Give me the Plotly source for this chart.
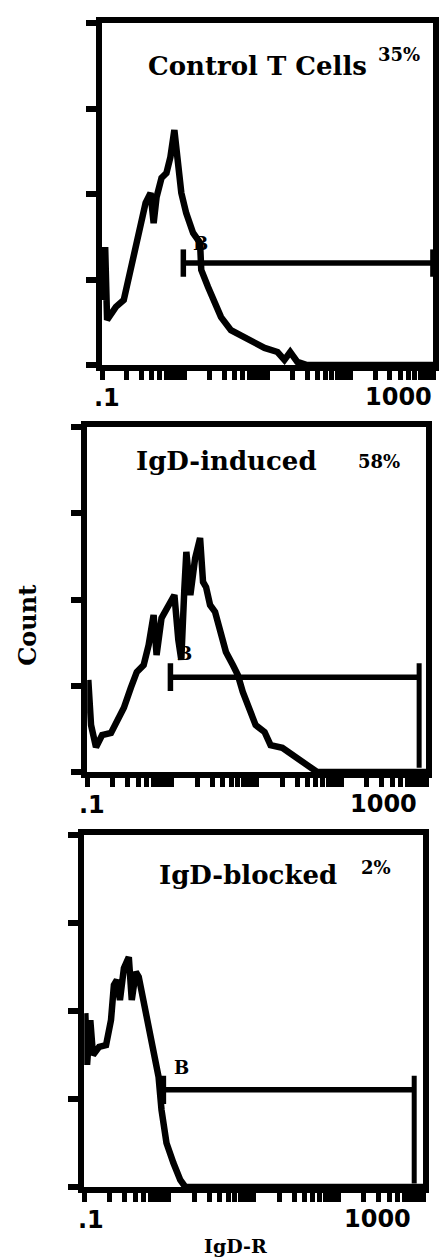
import plotly.graph_objects as go

# IgD-R fluorescence (log scale) vs. cell count for three T cell preparations
panel_titles = ["Control T Cells", "IgD-induced", "IgD-blocked"]
gate_percent = ["35%", "58%", "2%"]

control_x = [0.103, 0.109, 0.115, 0.121, 0.147, 0.183, 0.222, 0.255, 0.293, 0.336,
             0.386, 0.420, 0.456, 0.523, 0.600, 0.670, 0.748, 0.813, 0.908, 1.04,
             1.26, 1.53, 1.58, 1.91, 2.32, 2.74, 3.61, 5.31, 6.98, 9.20,
             13.2, 16.0, 18.8, 22.9, 30.1, 1000]
control_y = [19.0, 34.5, 13.2, 14.0, 17.0, 19.0, 27.8, 35.7, 42.4, 47.4,
             50.3, 41.5, 49.1, 54.7, 56.1, 60.8, 68.7, 59.1, 50.3, 44.4,
             38.6, 35.7, 27.8, 22.8, 18.1, 14.0, 10.2, 8.2, 6.4, 5.0,
             3.8, 1.5, 3.8, 0.9, 0, 0]

induced_x = [0.103, 0.111, 0.127, 0.150, 0.191, 0.224, 0.271, 0.327, 0.385, 0.464,
             0.531, 0.608, 0.659, 0.754, 0.910, 1.07, 1.19, 1.29, 1.40, 1.48,
             1.65, 1.88, 2.15, 2.33, 2.53, 2.82, 3.23, 3.69, 4.34, 5.24,
             6.00, 6.86, 8.28, 9.73, 12.4, 14.6, 20.1, 26.4, 34.5, 45.2,
             51.7, 1000]
induced_y = [26.7, 13.6, 7.2, 10.7, 11.3, 14.5, 18.6, 24.4, 29.0, 31.0,
             36.8, 45.5, 33.9, 44.6, 48.4, 51.3, 38.3, 32.5, 52.8, 63.8,
             51.3, 62.0, 67.8, 55.1, 53.6, 48.4, 46.4, 40.6, 34.8, 31.0,
             28.1, 23.2, 17.4, 13.6, 11.6, 7.8, 7.0, 4.9, 2.9, 1.2,
             0, 0]

blocked_x = [0.103, 0.108, 0.118, 0.127, 0.150, 0.181, 0.207, 0.224, 0.243, 0.264,
             0.294, 0.336, 0.364, 0.406, 0.440, 0.503, 0.576, 0.659, 0.754, 0.817,
             0.935, 1.13, 1.36, 1.56, 1000]
blocked_y = [49.4, 34.7, 47.4, 37.5, 39.8, 40.3, 47.4, 57.4, 58.8, 53.1,
             62.2, 65.3, 53.1, 61.1, 59.7, 52.3, 44.6, 38.1, 31.3, 21.9,
             12.5, 6.8, 2.0, 0, 0]

# marker "B": left edge, right edge and height of each gate
gate_left = [0.96, 0.96, 0.86]
gate_right = [990, 828, 785]
gate_level = [29.8, 27.5, 27.6]

count_ticks = [0, 25, 50, 75, 100]
decade_ticks = [m * 10.0 ** e for e in (-1, 0, 1, 2) for m in range(1, 10)] + [1000]

W, H = 439, 1259
# pixel boxes of the three plot frames: left, right, top, bottom
frames = [(103, 437, 23, 365), (88, 430, 427, 772), (85, 427, 835, 1187)]
series = [(control_x, control_y), (induced_x, induced_y), (blocked_x, blocked_y)]
# drop of the right gate end (to baseline for the second and third panels)
gate_right_drop = [None, 1.2, 1.0]

fig = go.Figure()
INK = "black"

for i, ((xs, ys), (l, r, t, b)) in enumerate(zip(series, frames)):
    n = "" if i == 0 else str(i + 1)
    xa, ya = "x" + n, "y" + n
    fig.add_trace(go.Scatter(x=xs, y=ys, xaxis=xa, yaxis=ya, mode="lines",
                             line=dict(color=INK, width=6.5), hoverinfo="skip"))
    g0, g1, gy = gate_left[i], gate_right[i], gate_level[i]
    fig.add_trace(go.Scatter(x=[g0, g1], y=[gy, gy], xaxis=xa, yaxis=ya, mode="lines",
                             line=dict(color=INK, width=5.5), hoverinfo="skip"))
    fig.add_trace(go.Scatter(x=[g0, g0], y=[gy - 4, gy + 4], xaxis=xa, yaxis=ya,
                             mode="lines", line=dict(color=INK, width=5.5), hoverinfo="skip"))
    low = gy - 4 if gate_right_drop[i] is None else gate_right_drop[i]
    fig.add_trace(go.Scatter(x=[g1, g1], y=[low, gy + 4], xaxis=xa, yaxis=ya,
                             mode="lines", line=dict(color=INK, width=5), hoverinfo="skip"))

    xdom = [l / W, r / W]
    ydom = [1 - b / H, 1 - t / H]
    fig.layout["xaxis" + n] = dict(
        type="log", range=[-1, 3], domain=xdom, anchor=ya,
        showline=True, linecolor=INK, linewidth=6, mirror=True,
        ticks="outside", tickvals=decade_ticks, ticklen=9, tickwidth=4.5, tickcolor=INK,
        showticklabels=False, showgrid=False, zeroline=False)
    fig.layout["yaxis" + n] = dict(
        range=[0, 100], domain=ydom, anchor=xa,
        showline=True, linecolor=INK, linewidth=6, mirror=True,
        ticks="outside", tickvals=count_ticks, ticklen=10, tickwidth=5.5, tickcolor=INK,
        showticklabels=False, showgrid=False, zeroline=False)


def note(text, px, py, size, family="DejaVu Serif", xanchor="center", angle=0):
    fig.add_annotation(text=text, x=px / W, y=1 - py / H, xref="paper", yref="paper",
                       xanchor=xanchor, yanchor="middle", showarrow=False, textangle=angle,
                       font=dict(family=family, size=size, color=INK))


# panel headings and gated percentages
note("<b>" + panel_titles[0] + "</b>", 260, 66, 26)
note("<b>" + gate_percent[0] + "</b>", 403, 55, 18)
note("<b>" + panel_titles[1] + "</b>", 229, 461, 26)
note("<b>" + gate_percent[1] + "</b>", 382, 461, 18)
note("<b>" + panel_titles[2] + "</b>", 250, 875, 26)
note("<b>" + gate_percent[2] + "</b>", 379, 867, 18)

# gate marker letters
note("<b>B</b>", 202, 243, 18)
note("<b>B</b>", 186, 653, 18)
note("<b>B</b>", 183, 1067, 18)

# x tick labels at the ends of each log axis
for (l, r, t, b), lx, rx in zip(frames, (108, 93, 92), (438, 423, 417)):
    note("<b>.1</b>", lx, b + 33, 24, family="DejaVu Sans")
    note("<b>1000</b>", rx, b + 32, 24, family="DejaVu Sans", xanchor="right")

note("<b>IgD-R</b>", 238, 1246, 19)
note("<b>Count</b>", 27, 625, 24, angle=-90)

fig.update_layout(width=W, height=H, margin=dict(l=0, r=0, t=0, b=0),
                  paper_bgcolor="white", plot_bgcolor="white", showlegend=False)

fig.write_html("out.html")
